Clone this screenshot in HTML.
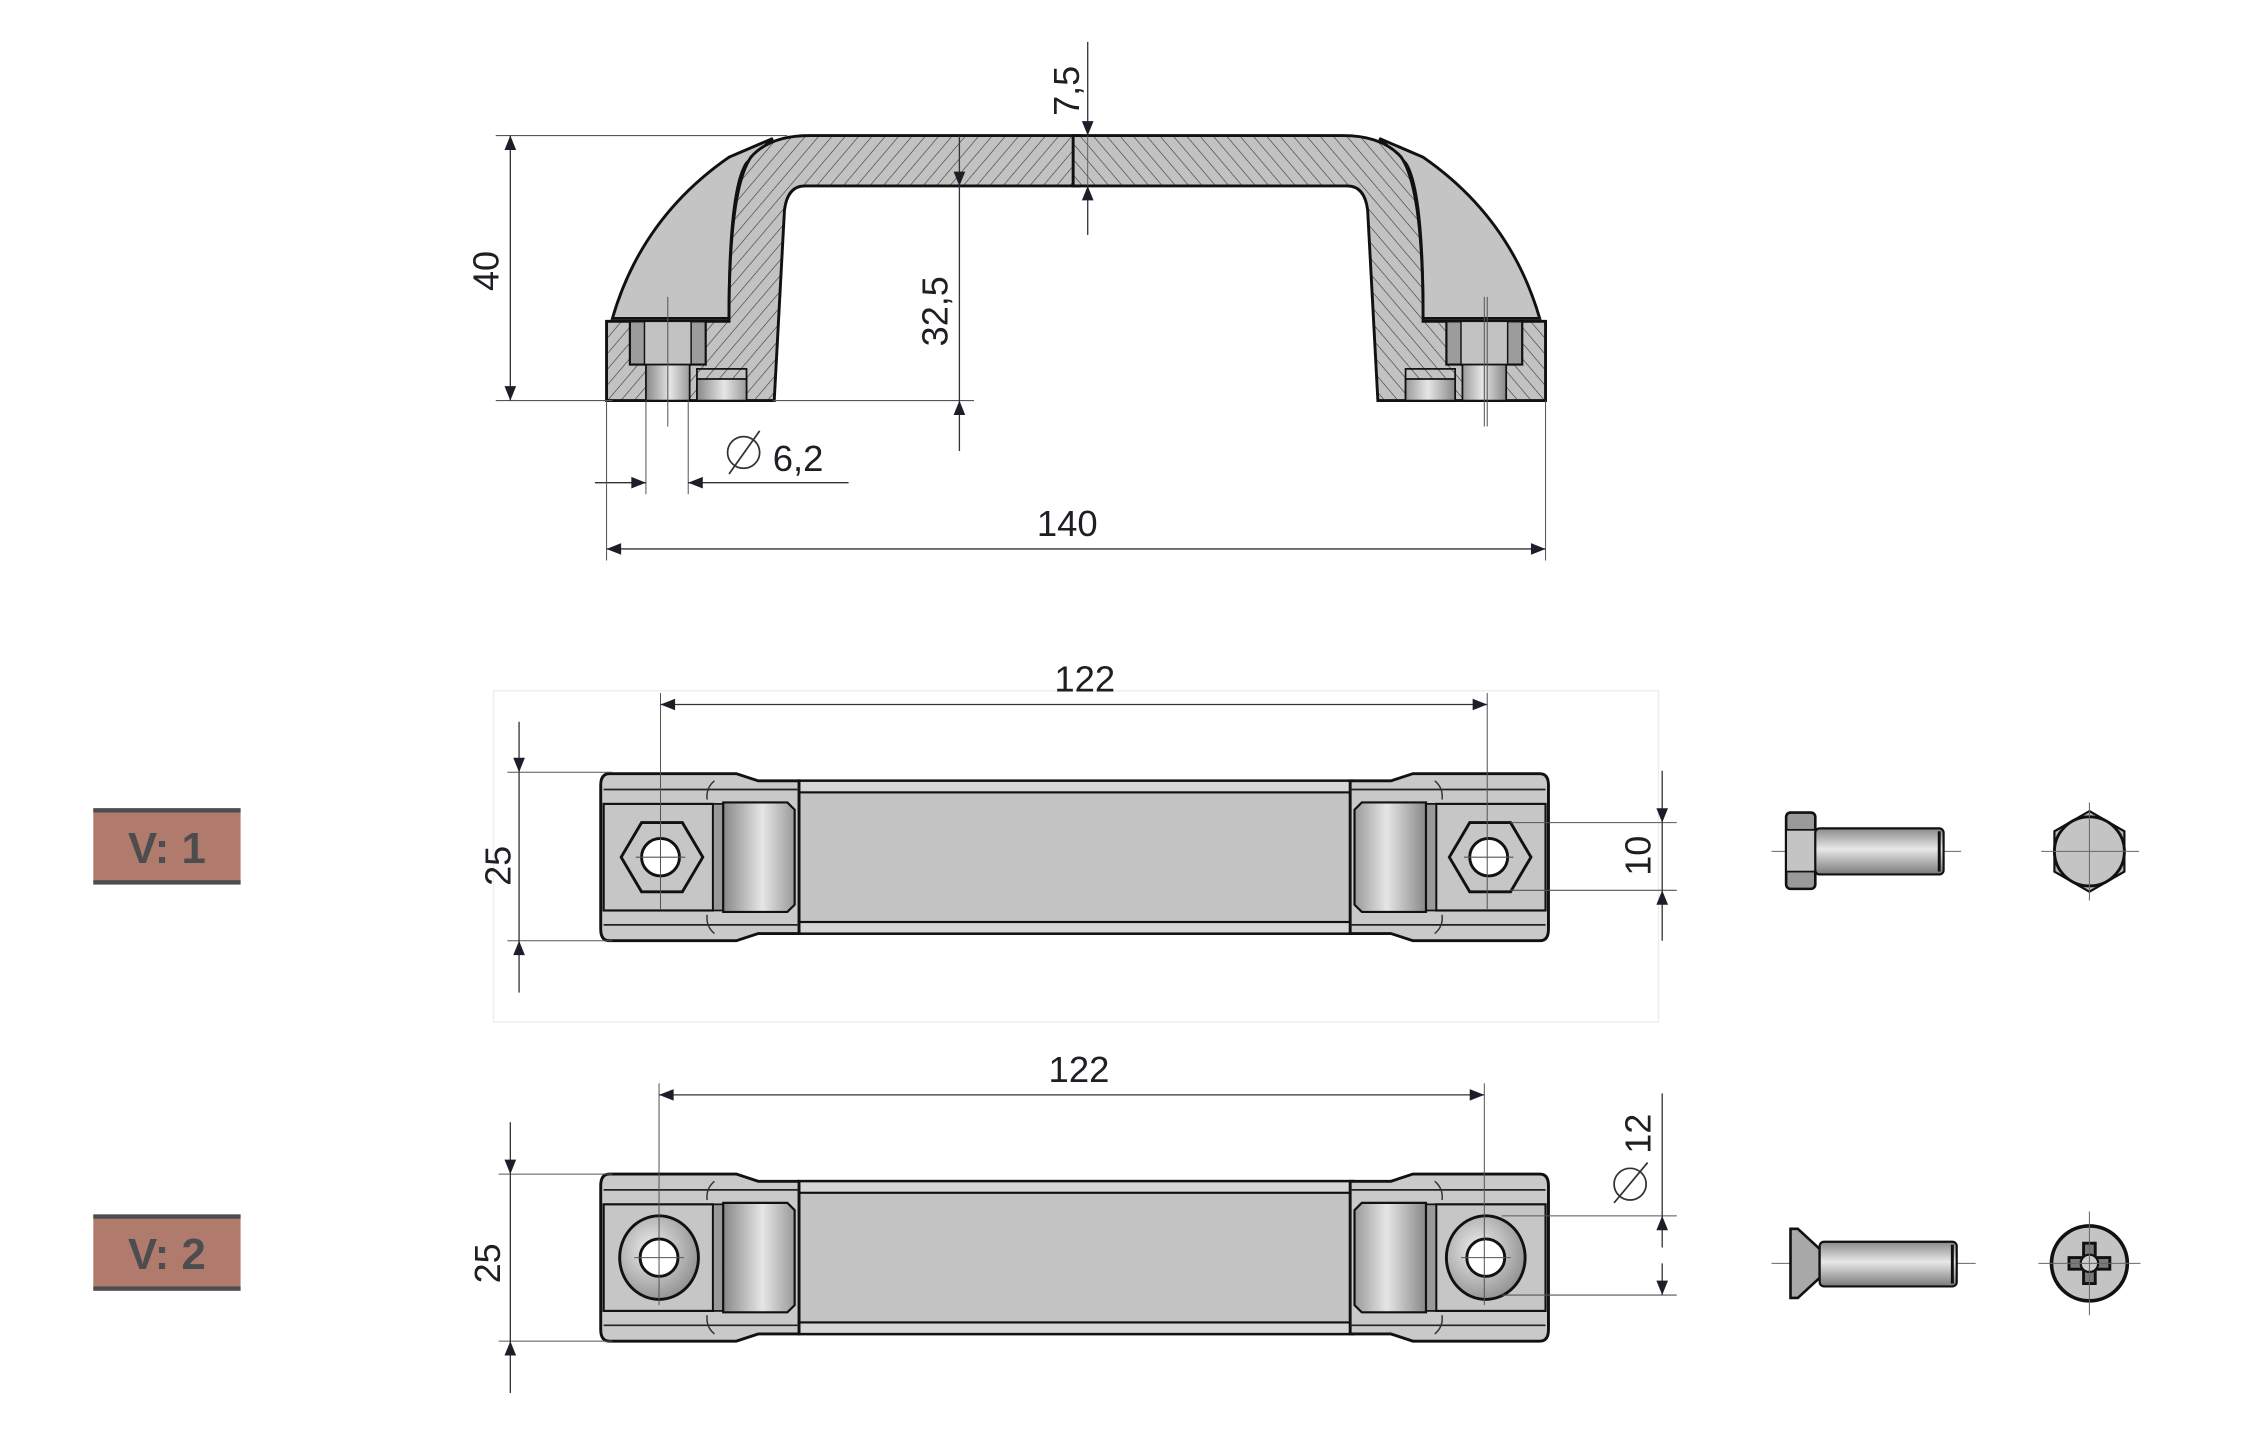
<!DOCTYPE html>
<html><head><meta charset="utf-8"><style>
html,body{margin:0;padding:0;background:#fff;}
svg{display:block;}
text{font-family:"Liberation Sans Narrow","Liberation Sans",sans-serif;fill:#1e1e24;}
</style></head><body>
<svg width="2260" height="1436" viewBox="0 0 1550 985" preserveAspectRatio="none" xmlns="http://www.w3.org/2000/svg">
<defs>
<pattern id="hatch" width="7" height="7" patternUnits="userSpaceOnUse" patternTransform="rotate(40)">
<rect width="7" height="7" fill="#c2c2c2"/><line x1="0" y1="0" x2="0" y2="7" stroke="#333" stroke-width="0.8"/>
</pattern>
<linearGradient id="cyl" x1="0" y1="0" x2="1" y2="0">
<stop offset="0" stop-color="#888"/><stop offset="0.55" stop-color="#e6e6e6"/><stop offset="1" stop-color="#9a9a9a"/>
</linearGradient>
<linearGradient id="rod" x1="0" y1="0" x2="0" y2="1">
<stop offset="0" stop-color="#8a8a8a"/><stop offset="0.45" stop-color="#e8e8e8"/><stop offset="1" stop-color="#7a7a7a"/>
</linearGradient>
<radialGradient id="ring" cx="0.4" cy="0.4" r="0.7"><stop offset="0" stop-color="#eee"/><stop offset="1" stop-color="#888"/></radialGradient>
<marker id="ar" viewBox="0 0 10 10" refX="10" refY="5" markerWidth="18" markerHeight="10" markerUnits="userSpaceOnUse" orient="auto-start-reverse">
<path d="M0,1 L10,5 L0,9 Z" fill="#1e1e2a"/></marker>

<g id="half">
<path d="M420,220 Q440,150 500,108 L530,95 L512,112 Q500,130 500,220 Z" fill="#c4c4c4" stroke="#111" stroke-width="2"/>
<path d="M500,220 Q500,130 515,108 Q528,93 555,93 L740,93 L740,128 L552,128 Q540,128 538,145 L531,277 L416,277 L416,222 L500,222 Z" fill="url(#hatch)" stroke="#111" stroke-width="2"/>
<rect x="432" y="222" width="52" height="30" fill="#9c9c9c" stroke="#111" stroke-width="1.5"/>
<rect x="442" y="222" width="32" height="30" fill="#c2c2c2" stroke="#111" stroke-width="1"/>
<rect x="443" y="252" width="30" height="25" fill="url(#cyl)" stroke="#111" stroke-width="1.2"/>
<rect x="478" y="255" width="34" height="22" fill="url(#hatch)" stroke="#111" stroke-width="1.2"/>
<rect x="478" y="262" width="34" height="15" fill="url(#cyl)" stroke="#111" stroke-width="1.2"/>
<line x1="458" y1="205" x2="458" y2="295" stroke="#555" stroke-width="0.7"/>
</g>

<g id="endcap">
<path d="M418,-58 L505,-58 L520,-53 L548,-53 L548,53 L520,53 L505,58 L418,58 Q412,58 412,50 L412,-50 Q412,-58 418,-58 Z" fill="#c9c9c9" stroke="#111" stroke-width="2"/>
<line x1="414" y1="-47" x2="548" y2="-47" stroke="#222" stroke-width="1.2"/>
<line x1="414" y1="47" x2="548" y2="47" stroke="#222" stroke-width="1.2"/>
<path d="M490,-53 Q484,-48 485,-40 M490,53 Q484,48 485,40" stroke="#333" stroke-width="1" fill="none"/>
<rect x="414" y="-37" width="75" height="74" fill="#c6c6c6" stroke="#111" stroke-width="1.5"/>
<rect x="489" y="-37" width="7" height="74" fill="#999" stroke="#111" stroke-width="1.2"/>
<path d="M496,-38 L540,-38 L545,-33 L545,33 L540,38 L496,38 Z" fill="url(#cyl)" stroke="#111" stroke-width="1.5"/>
</g>
<g id="bar">
<rect x="548" y="-53" width="380" height="106" fill="#c3c3c3" stroke="#111" stroke-width="2"/>
<rect x="548" y="-53" width="380" height="8" fill="#d6d6d6" stroke="#111" stroke-width="1.5"/>
<rect x="548" y="45" width="380" height="8" fill="#d6d6d6" stroke="#111" stroke-width="1.5"/>
<use href="#endcap"/>
<use href="#endcap" transform="translate(1474,0) scale(-1,1)"/>
</g>
</defs>

<g transform="translate(0,1.1) scale(1,0.988)">
<use href="#half"/>
<use href="#half" transform="translate(1476,0) scale(-1,1)"/>
<line x1="1020" y1="205" x2="1020" y2="295" stroke="#555" stroke-width="0.7"/>

<line x1="340" y1="93" x2="540" y2="93" stroke="#555" stroke-width="0.8"/>
<line x1="340" y1="277" x2="420" y2="277" stroke="#555" stroke-width="0.8"/>
<line x1="350" y1="93" x2="350" y2="277" stroke="#333" stroke-width="0.9" marker-start="url(#ar)" marker-end="url(#ar)"/>
<text transform="translate(342,187) rotate(-90)" font-size="25" text-anchor="middle">40</text>
<line x1="530" y1="277" x2="668" y2="277" stroke="#555" stroke-width="0.8"/>
<line x1="658" y1="93" x2="658" y2="128" stroke="#333" stroke-width="0.9" marker-end="url(#ar)" />
<line x1="658" y1="128" x2="658" y2="277" stroke="#333" stroke-width="0.9"/>
<line x1="658" y1="312" x2="658" y2="277" stroke="#333" stroke-width="0.9" marker-end="url(#ar)"/>
<text transform="translate(650,215) rotate(-90)" font-size="25" text-anchor="middle">32,5</text>
<line x1="746" y1="28" x2="746" y2="93" stroke="#333" stroke-width="0.9" marker-end="url(#ar)"/>
<line x1="746" y1="93" x2="746" y2="128" stroke="#555" stroke-width="0.6"/>
<line x1="746" y1="162" x2="746" y2="128" stroke="#333" stroke-width="0.9" marker-end="url(#ar)"/>
<text transform="translate(740,62) rotate(-90)" font-size="25" text-anchor="middle">7,5</text>
<line x1="443" y1="277" x2="443" y2="342" stroke="#555" stroke-width="0.7"/>
<line x1="472" y1="277" x2="472" y2="342" stroke="#555" stroke-width="0.7"/>
<line x1="408" y1="334" x2="443" y2="334" stroke="#333" stroke-width="0.9" marker-end="url(#ar)"/>
<line x1="582" y1="334" x2="472" y2="334" stroke="#333" stroke-width="0.9" marker-end="url(#ar)"/>
<circle cx="510" cy="313" r="11" fill="none" stroke="#333" stroke-width="1.2"/>
<line x1="500" y1="328" x2="521" y2="298" stroke="#333" stroke-width="1.2"/>
<text x="530" y="326" font-size="25">6,2</text>
<line x1="416" y1="277" x2="416" y2="388" stroke="#555" stroke-width="0.7"/>
<line x1="1060" y1="277" x2="1060" y2="388" stroke="#555" stroke-width="0.7"/>
<line x1="416" y1="380" x2="1060" y2="380" stroke="#333" stroke-width="0.9" marker-start="url(#ar)" marker-end="url(#ar)"/>
<text x="732" y="371" font-size="25" text-anchor="middle">140</text>

<rect x="338.5" y="478.5" width="799" height="230" fill="none" stroke="#eee" stroke-width="1"/>
<rect x="64" y="560" width="101" height="53" fill="#b07b6d"/>
<rect x="64" y="560" width="101" height="3" fill="#4d4d4f"/>
<rect x="64" y="610" width="101" height="3" fill="#4d4d4f"/>
<text x="114.5" y="598" font-size="30" font-weight="bold" text-anchor="middle" style="font-family:'Liberation Sans',sans-serif;fill:#4d4d4f">V: 1</text>

<g transform="translate(0,594)">
<use href="#bar"/>
<polygon points="426,0 440,-24 468,-24 482,0 468,24 440,24" fill="#c6c6c6" stroke="#111" stroke-width="2"/>
<circle cx="453" cy="0" r="13" fill="#fff" stroke="#111" stroke-width="2"/>
<polygon points="994,0 1008,-24 1036,-24 1050,0 1036,24 1008,24" fill="#c6c6c6" stroke="#111" stroke-width="2"/>
<circle cx="1021" cy="0" r="13" fill="#fff" stroke="#111" stroke-width="2"/>
<line x1="436" y1="0" x2="470" y2="0" stroke="#555" stroke-width="0.7"/>
<line x1="1004" y1="0" x2="1038" y2="0" stroke="#555" stroke-width="0.7"/>
</g>
<line x1="453" y1="480" x2="453" y2="630" stroke="#555" stroke-width="0.7"/>
<line x1="1020" y1="480" x2="1020" y2="630" stroke="#555" stroke-width="0.7"/>
<line x1="453" y1="488" x2="1020" y2="488" stroke="#333" stroke-width="0.9" marker-start="url(#ar)" marker-end="url(#ar)"/>
<text x="744" y="479" font-size="25" text-anchor="middle">122</text>
<line x1="348" y1="535" x2="420" y2="535" stroke="#555" stroke-width="0.7"/>
<line x1="348" y1="652" x2="420" y2="652" stroke="#555" stroke-width="0.7"/>
<line x1="356" y1="500" x2="356" y2="535" stroke="#333" stroke-width="0.9" marker-end="url(#ar)"/>
<line x1="356" y1="535" x2="356" y2="652" stroke="#333" stroke-width="0.9"/>
<line x1="356" y1="688" x2="356" y2="652" stroke="#333" stroke-width="0.9" marker-end="url(#ar)"/>
<text transform="translate(350,600) rotate(-90)" font-size="25" text-anchor="middle">25</text>
<line x1="1036" y1="570" x2="1150" y2="570" stroke="#555" stroke-width="0.7"/>
<line x1="1036" y1="617" x2="1150" y2="617" stroke="#555" stroke-width="0.7"/>
<line x1="1140" y1="534" x2="1140" y2="570" stroke="#333" stroke-width="0.9" marker-end="url(#ar)"/>
<line x1="1140" y1="570" x2="1140" y2="617" stroke="#333" stroke-width="0.9"/>
<line x1="1140" y1="652" x2="1140" y2="617" stroke="#333" stroke-width="0.9" marker-end="url(#ar)"/>
<text transform="translate(1132,593) rotate(-90)" font-size="25" text-anchor="middle">10</text>

<line x1="1215" y1="590" x2="1345" y2="590" stroke="#666" stroke-width="0.7"/>
<rect x="1225" y="563" width="20" height="53" rx="3" fill="#9a9a9a" stroke="#111" stroke-width="1.8"/>
<rect x="1225" y="575" width="20" height="29" fill="#c4c4c4" stroke="#111" stroke-width="1.2"/>
<rect x="1245" y="574" width="88" height="32" rx="3" fill="url(#rod)" stroke="#111" stroke-width="1.5"/>
<line x1="1330" y1="576" x2="1330" y2="604" stroke="#111" stroke-width="2"/>
<polygon points="1433,562 1457,576 1457,604 1433,618 1409,604 1409,576" fill="#b8b8b8" stroke="#111" stroke-width="1.5"/>
<circle cx="1433" cy="590" r="24" fill="#c4c4c4" stroke="#111" stroke-width="2"/>
<line x1="1400" y1="590" x2="1467" y2="590" stroke="#666" stroke-width="0.7"/>
<line x1="1433" y1="556" x2="1433" y2="624" stroke="#666" stroke-width="0.7"/>

<rect x="64" y="842" width="101" height="53" fill="#b07b6d"/>
<rect x="64" y="842" width="101" height="3" fill="#4d4d4f"/>
<rect x="64" y="892" width="101" height="3" fill="#4d4d4f"/>
<text x="114.5" y="880" font-size="30" font-weight="bold" text-anchor="middle" style="font-family:'Liberation Sans',sans-serif;fill:#4d4d4f">V: 2</text>

<g transform="translate(0,872)">
<use href="#bar"/>
<ellipse cx="452" cy="0" rx="27" ry="29" fill="url(#ring)" stroke="#111" stroke-width="2"/>
<circle cx="452" cy="0" r="13" fill="#fff" stroke="#111" stroke-width="2"/>
<ellipse cx="1019" cy="0" rx="27" ry="29" fill="url(#ring)" stroke="#111" stroke-width="2"/>
<circle cx="1019" cy="0" r="13" fill="#fff" stroke="#111" stroke-width="2"/>
<line x1="435" y1="0" x2="469" y2="0" stroke="#555" stroke-width="0.7"/>
<line x1="1002" y1="0" x2="1036" y2="0" stroke="#555" stroke-width="0.7"/>
</g>
<line x1="452" y1="751" x2="452" y2="905" stroke="#555" stroke-width="0.7"/>
<line x1="1018" y1="751" x2="1018" y2="905" stroke="#555" stroke-width="0.7"/>
<line x1="452" y1="759" x2="1018" y2="759" stroke="#333" stroke-width="0.9" marker-start="url(#ar)" marker-end="url(#ar)"/>
<text x="740" y="750" font-size="25" text-anchor="middle">122</text>
<line x1="342" y1="814" x2="420" y2="814" stroke="#555" stroke-width="0.7"/>
<line x1="342" y1="930" x2="420" y2="930" stroke="#555" stroke-width="0.7"/>
<line x1="350" y1="778" x2="350" y2="814" stroke="#333" stroke-width="0.9" marker-end="url(#ar)"/>
<line x1="350" y1="814" x2="350" y2="930" stroke="#333" stroke-width="0.9"/>
<line x1="350" y1="966" x2="350" y2="930" stroke="#333" stroke-width="0.9" marker-end="url(#ar)"/>
<text transform="translate(343,876) rotate(-90)" font-size="25" text-anchor="middle">25</text>
<line x1="1030" y1="843" x2="1150" y2="843" stroke="#555" stroke-width="0.7"/>
<line x1="1030" y1="898" x2="1150" y2="898" stroke="#555" stroke-width="0.7"/>
<line x1="1140" y1="758" x2="1140" y2="843" stroke="#333" stroke-width="0.9"/>
<line x1="1140" y1="865" x2="1140" y2="843" stroke="#333" stroke-width="0.9" marker-end="url(#ar)"/>
<line x1="1140" y1="876" x2="1140" y2="898" stroke="#333" stroke-width="0.9" marker-end="url(#ar)"/>
<circle cx="1118" cy="821" r="11" fill="none" stroke="#333" stroke-width="1.2"/>
<line x1="1107" y1="834" x2="1130" y2="806" stroke="#333" stroke-width="1.2"/>
<text transform="translate(1132,786) rotate(-90)" font-size="25" text-anchor="middle">12</text>

<line x1="1215" y1="876" x2="1355" y2="876" stroke="#666" stroke-width="0.7"/>
<path d="M1228,852 L1233,852 L1248,866 L1248,886 L1233,900 L1228,900 Z" fill="#a8a8a8" stroke="#111" stroke-width="1.8"/>
<rect x="1248" y="861" width="94" height="31" rx="3" fill="url(#rod)" stroke="#111" stroke-width="1.5"/>
<line x1="1339" y1="863" x2="1339" y2="890" stroke="#111" stroke-width="2"/>
<circle cx="1433" cy="876" r="26" fill="#c4c4c4" stroke="#111" stroke-width="2.5"/>
<path d="M1429,862 h8 v10 h10 v8 h-10 v10 h-8 v-10 h-10 v-8 h10 Z" fill="#7a7a7a" stroke="#111" stroke-width="2"/>
<circle cx="1433" cy="876" r="6" fill="#ccc" stroke="#111" stroke-width="1.5"/>
<line x1="1398" y1="876" x2="1468" y2="876" stroke="#666" stroke-width="0.7"/>
<line x1="1433" y1="840" x2="1433" y2="912" stroke="#666" stroke-width="0.7"/>
</g>
</svg>
</body></html>
